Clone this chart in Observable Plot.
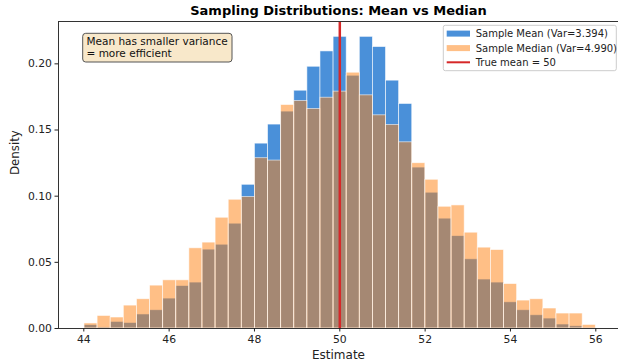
<!DOCTYPE html>
<html><head><meta charset="utf-8">
<script src="https://cdn.jsdelivr.net/npm/d3@7"></script>
<script src="https://cdn.jsdelivr.net/npm/@observablehq/plot@0.6"></script>
<style>body{margin:0;background:#fff} svg{display:block}</style>
</head><body><div id="chart"></div>
<script>
// bin range shared by both histograms (39 equal bins)
const binLo = 44.016, binHi = 56.0, binCount = 39;
const meanDensity = [0.0025,0.0008,0.0050,0.0042,0.0106,0.0138,0.0226,0.0321,0.0347,0.0596,
  0.0633,0.0792,0.1086,0.1397,0.1541,0.1639,0.1797,0.1978,0.2094,0.2204,
  0.1910,0.2204,0.2127,0.1873,0.1697,0.1216,0.1026,0.0830,0.0698,0.0523,
  0.0370,0.0347,0.0198,0.0138,0.0100,0.0075,0.0030,0.0017,0.0004];
const medianDensity = [0.0038,0.0095,0.0083,0.0173,0.0221,0.0324,0.0364,0.0364,0.0606,0.0649,
  0.0837,0.0973,0.0993,0.1287,0.1269,0.1689,0.1719,0.1659,0.1744,0.1790,
  0.1933,0.1762,0.1611,0.1538,0.1407,0.1249,0.1124,0.0920,0.0930,0.0724,
  0.0611,0.0593,0.0336,0.0211,0.0221,0.0151,0.0113,0.0113,0.0027];
const trueMean = 50;
const xTicks = [44,46,48,50,52,54,56];
const yTicks = [0,0.05,0.10,0.15,0.20];
const legendLabels = ["Sample Mean (Var=3.394)","Sample Median (Var=4.990)","True mean = 50"];
const noteLines = ["Mean has smaller variance","= more efficient"];
const titleText = "Sampling Distributions: Mean vs Median";

const edges = d3.range(binCount + 1).map(i => binLo + (binHi - binLo) * i / binCount);
const meanBins = meanDensity.map((v, i) => ({x1: edges[i], x2: edges[i+1], y: v}));
const medianBins = medianDensity.map((v, i) => ({x1: edges[i], x2: edges[i+1], y: v}));

const xDom = [43.407, 56.532], yDom = [0, 0.232];
const font = "DejaVu Sans, sans-serif";

const plot = Plot.plot({
  width: 618, height: 363,
  marginLeft: 58, marginRight: 0, marginTop: 21, marginBottom: 35,
  x: {domain: xDom}, y: {domain: yDom},
  style: {fontFamily: font, fontSize: "10.8px", color: "#222", background: "white"},
  marks: [
    Plot.rectY(meanBins, {x1: "x1", x2: "x2", y: "y", inset: 0, fill: "#4a90d9", stroke: "white", strokeWidth: 0.8, strokeOpacity: 0.7}),
    Plot.rectY(medianBins, {x1: "x1", x2: "x2", y: "y", inset: 0, fill: "#ff7f0e", fillOpacity: 0.5, stroke: "white", strokeWidth: 0.8, strokeOpacity: 0.7}),
    Plot.ruleX([trueMean], {stroke: "#d62728", strokeWidth: 2.5}),
    Plot.ruleY([yDom[0]], {stroke: "#333", strokeWidth: 1}),
    Plot.ruleY([yDom[1]], {stroke: "#333", strokeWidth: 1}),
    Plot.ruleX([xDom[0]], {stroke: "#333", strokeWidth: 1}),
    Plot.axisX({ticks: xTicks, tickSize: 3.5, tickPadding: 3, label: null, tickFormat: d => String(d)}),
    Plot.axisY({ticks: yTicks, tickSize: 3.5, tickPadding: 3, label: null, tickFormat: d3.format(".2f")}),
    Plot.text([titleText], {frameAnchor: "top", dy: -10.4, lineAnchor: "middle", fontWeight: "bold", fontSize: 13, fill: "#000"}),
    Plot.text(["Estimate"], {frameAnchor: "bottom", dy: 26.9, lineAnchor: "middle", fontSize: 12, fill: "#222"}),
    Plot.text(["Density"], {frameAnchor: "left", dx: -42.8, rotate: -90, lineAnchor: "middle", fontSize: 11.8, fill: "#222"})
  ]
});
document.getElementById("chart").appendChild(plot);

const svg = d3.select(plot);
// annotation box
const note = svg.append("g").attr("text-anchor", "start");
note.append("rect").attr("x", 82.7).attr("y", 33.3).attr("width", 149.3).attr("height", 28.7)
  .attr("rx", 3).attr("fill", "#f5deb3").attr("fill-opacity", 0.7).attr("stroke", "#555").attr("stroke-width", 1);
noteLines.forEach((t, i) => note.append("text").attr("x", 86.5).attr("y", 45 + i * 11.8)
  .attr("text-anchor", "start").attr("font-family", font).attr("font-size", 10.5).attr("fill", "#111").text(t));

// legend
const leg = svg.append("g").attr("text-anchor", "start");
leg.append("rect").attr("x", 443.3).attr("y", 25.3).attr("width", 173).attr("height", 45.4)
  .attr("rx", 2).attr("fill", "white").attr("fill-opacity", 0.85).attr("stroke", "#ccc").attr("stroke-width", 1);
const rowY = [33.6, 48.1, 62.3];
leg.append("rect").attr("x", 446.7).attr("y", rowY[0] - 3).attr("width", 23.3).attr("height", 6).attr("fill", "#4a90d9");
leg.append("rect").attr("x", 446.7).attr("y", rowY[1] - 3).attr("width", 23.3).attr("height", 6).attr("fill", "#ff7f0e").attr("fill-opacity", 0.5);
leg.append("line").attr("x1", 446.7).attr("x2", 470).attr("y1", rowY[2]).attr("y2", rowY[2]).attr("stroke", "#d62728").attr("stroke-width", 2);
legendLabels.forEach((t, i) => leg.append("text").attr("x", 475.7).attr("y", rowY[i]).attr("dy", "0.35em")
  .attr("text-anchor", "start").attr("font-family", font).attr("font-size", 10).attr("fill", "#222").text(t));
</script>
</body></html>
